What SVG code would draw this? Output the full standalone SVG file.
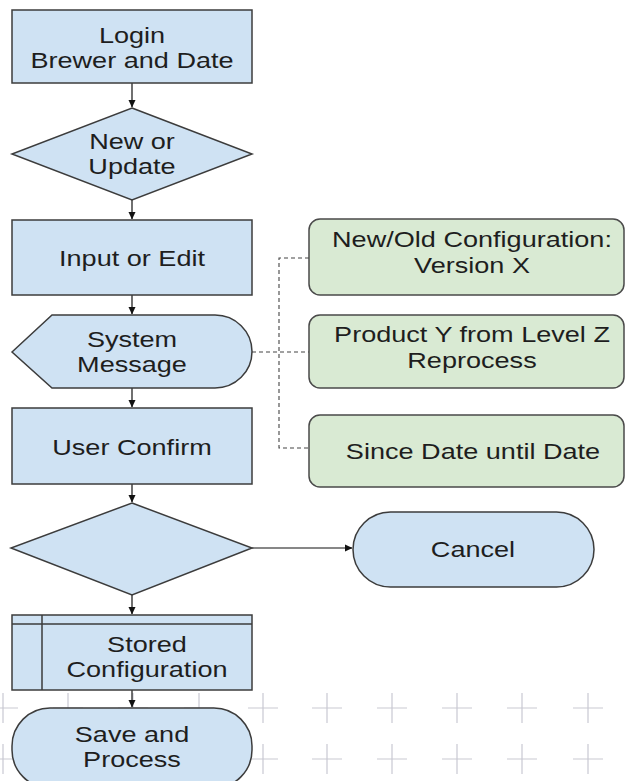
<svg xmlns="http://www.w3.org/2000/svg" width="625" height="781" viewBox="0 0 625 781">
<defs>
<marker id="ah" markerWidth="8" markerHeight="8" refX="7" refY="4" orient="auto" markerUnits="userSpaceOnUse">
<path d="M0,0.5 L7.5,4 L0,7.5 Z" fill="#111"/>
</marker>
<g id="cross"><path d="M-15,0 H15 M0,-15 V15" stroke="#c9c9d2" stroke-width="1.2" fill="none"/></g>
</defs>
<style>
.b{fill:#cfe2f3;stroke:#3c3c3c;stroke-width:1.5}
.g{fill:#d9ead3;stroke:#4a4a4a;stroke-width:1.5}
.t{font-family:"Liberation Sans",Arial,sans-serif;font-size:21.5px;fill:#1e1e1e;text-anchor:middle}
.c{stroke:#111;stroke-width:1.2;fill:none}
.d{stroke:#444;stroke-width:1.1;fill:none;stroke-dasharray:4,3}
</style>
<rect width="625" height="781" fill="#fff"/>
<g id="grid">
<use href="#cross" x="3" y="708"/><use href="#cross" x="68" y="708"/><use href="#cross" x="133" y="708"/><use href="#cross" x="199" y="708"/><use href="#cross" x="263" y="708"/><use href="#cross" x="327" y="708"/><use href="#cross" x="392" y="708"/><use href="#cross" x="457" y="708"/><use href="#cross" x="522" y="708"/><use href="#cross" x="588" y="708"/>
<use href="#cross" x="3" y="759"/><use href="#cross" x="68" y="759"/><use href="#cross" x="133" y="759"/><use href="#cross" x="199" y="759"/><use href="#cross" x="263" y="759"/><use href="#cross" x="327" y="759"/><use href="#cross" x="392" y="759"/><use href="#cross" x="457" y="759"/><use href="#cross" x="522" y="759"/><use href="#cross" x="588" y="759"/>
</g>
<g id="connectors">
<path class="c" d="M132,83 V107" marker-end="url(#ah)"/>
<path class="c" d="M132,200 V219" marker-end="url(#ah)"/>
<path class="c" d="M132,295 V314" marker-end="url(#ah)"/>
<path class="c" d="M132,388 V407" marker-end="url(#ah)"/>
<path class="c" d="M132,484 V502" marker-end="url(#ah)"/>
<path class="c" d="M132,595 V614" marker-end="url(#ah)"/>
<path class="c" d="M132,690 V707" marker-end="url(#ah)"/>
<path class="c" d="M252,548 H352" marker-end="url(#ah)"/>
<path class="d" d="M252,352 H309"/>
<path class="d" d="M309,258 H279 V448 H309"/>
</g>
<g id="login">
<rect class="b" x="12" y="10" width="240" height="73"/>
<text class="t" transform="translate(132,43) scale(1.26,1)">Login</text>
<text class="t" transform="translate(132,67.5) scale(1.26,1)">Brewer and Date</text>
</g>
<g id="new-or-update">
<path class="b" d="M132,108 L252,154 L132,200 L12,154 Z"/>
<text class="t" transform="translate(132,149) scale(1.26,1)">New or</text>
<text class="t" transform="translate(132,174) scale(1.26,1)">Update</text>
</g>
<g id="input-or-edit">
<rect class="b" x="12" y="220" width="240" height="75"/>
<text class="t" transform="translate(132,266) scale(1.26,1)">Input or Edit</text>
</g>
<g id="system-message">
<path class="b" d="M12,352 L52,315 L215,315 A37,36.5 0 0 1 215,388 L52,388 Z"/>
<text class="t" transform="translate(132,347) scale(1.26,1)">System</text>
<text class="t" transform="translate(132,372) scale(1.26,1)">Message</text>
</g>
<g id="user-confirm">
<rect class="b" x="12" y="408" width="240" height="76"/>
<text class="t" transform="translate(132,455) scale(1.26,1)">User Confirm</text>
</g>
<g id="decision">
<path class="b" d="M132,503 L252,548 L132,595 L11,548 Z"/>
</g>
<g id="cancel">
<rect class="b" x="353" y="512" width="241" height="75" rx="37.5"/>
<text class="t" transform="translate(473,557) scale(1.26,1)">Cancel</text>
</g>
<g id="stored-configuration">
<rect class="b" x="12" y="615" width="240" height="75"/>
<path class="b" d="M12,624 H252 M42,615 V690" fill="none"/>
<text class="t" transform="translate(147,652) scale(1.26,1)">Stored</text>
<text class="t" transform="translate(147,677) scale(1.26,1)">Configuration</text>
</g>
<g id="save-and-process">
<rect class="b" x="12" y="708" width="240" height="80" rx="38"/>
<text class="t" transform="translate(132,742) scale(1.26,1)">Save and</text>
<text class="t" transform="translate(132,767) scale(1.26,1)">Process</text>
</g>
<g id="version">
<rect class="g" x="309" y="219" width="315" height="76" rx="11"/>
<text class="t" transform="translate(472,247) scale(1.26,1)">New/Old Configuration:</text>
<text class="t" transform="translate(472,273) scale(1.26,1)">Version X</text>
</g>
<g id="product">
<rect class="g" x="309" y="315" width="315" height="73" rx="11"/>
<text class="t" transform="translate(472,342) scale(1.26,1)">Product Y from Level Z</text>
<text class="t" transform="translate(472,368) scale(1.26,1)">Reprocess</text>
</g>
<g id="since">
<rect class="g" x="309" y="415" width="315" height="72" rx="11"/>
<text class="t" transform="translate(473,459) scale(1.26,1)">Since Date until Date</text>
</g>
</svg>
